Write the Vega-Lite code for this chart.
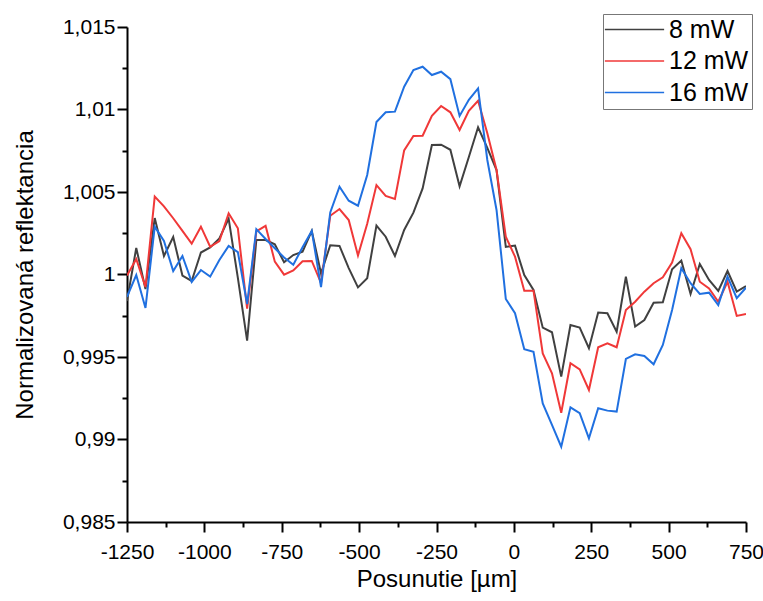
{
  "$schema": "https://vega.github.io/schema/vega-lite/v6.json",
  "width": 619,
  "height": 495,
  "autosize": {"type": "none"},
  "padding": {"left": 127, "top": 27, "right": 17, "bottom": 79},
  "background": "white",
  "config": {"view": {"stroke": null}, "font": "Liberation Sans", "legend": {"strokeWidth": 1}},
  "data": {"values": [
    {"x": -1250, "8 mW": 0.99839, "12 mW": 0.99994, "16 mW": 0.99864},
    {"x": -1220.1, "8 mW": 1.00161, "12 mW": 1.00094, "16 mW": 0.99997},
    {"x": -1190.3, "8 mW": 0.99912, "12 mW": 0.99924, "16 mW": 0.99797},
    {"x": -1160.4, "8 mW": 1.00342, "12 mW": 1.00472, "16 mW": 1.0029},
    {"x": -1130.6, "8 mW": 1.00112, "12 mW": 1.00413, "16 mW": 1.00203},
    {"x": -1100.7, "8 mW": 1.00227, "12 mW": 1.00341, "16 mW": 1.00021},
    {"x": -1070.9, "8 mW": 0.99994, "12 mW": 1.00264, "16 mW": 1.00112},
    {"x": -1041.0, "8 mW": 0.99961, "12 mW": 1.00187, "16 mW": 0.99955},
    {"x": -1011.2, "8 mW": 1.00133, "12 mW": 1.0029, "16 mW": 1.00027},
    {"x": -981.3, "8 mW": 1.00164, "12 mW": 1.00168, "16 mW": 0.99987},
    {"x": -951.5, "8 mW": 1.00219, "12 mW": 1.00202, "16 mW": 1.00088},
    {"x": -921.6, "8 mW": 1.00339, "12 mW": 1.00371, "16 mW": 1.00173},
    {"x": -891.8, "8 mW": 0.99979, "12 mW": 1.0028, "16 mW": 1.00136},
    {"x": -861.9, "8 mW": 0.99599, "12 mW": 0.99793, "16 mW": 0.99821},
    {"x": -832.1, "8 mW": 1.00209, "12 mW": 1.00262, "16 mW": 1.00275},
    {"x": -802.2, "8 mW": 1.00209, "12 mW": 1.00295, "16 mW": 1.00215},
    {"x": -772.4, "8 mW": 1.00183, "12 mW": 1.00078, "16 mW": 1.00159},
    {"x": -742.5, "8 mW": 1.00074, "12 mW": 0.99999, "16 mW": 1.00103},
    {"x": -712.7, "8 mW": 1.00118, "12 mW": 1.00025, "16 mW": 1.00059},
    {"x": -682.8, "8 mW": 1.00138, "12 mW": 1.0008, "16 mW": 1.00165},
    {"x": -653.0, "8 mW": 1.00264, "12 mW": 1.00082, "16 mW": 1.00264},
    {"x": -623.1, "8 mW": 1.00007, "12 mW": 0.99948, "16 mW": 0.99924},
    {"x": -593.3, "8 mW": 1.00177, "12 mW": 1.00356, "16 mW": 1.00376},
    {"x": -563.4, "8 mW": 1.00173, "12 mW": 1.00397, "16 mW": 1.00532},
    {"x": -533.6, "8 mW": 1.00039, "12 mW": 1.0033, "16 mW": 1.00447},
    {"x": -503.7, "8 mW": 0.99922, "12 mW": 1.00115, "16 mW": 1.00417},
    {"x": -473.9, "8 mW": 0.99977, "12 mW": 1.00308, "16 mW": 1.00603},
    {"x": -444.0, "8 mW": 1.00296, "12 mW": 1.00542, "16 mW": 1.00924},
    {"x": -414.2, "8 mW": 1.00229, "12 mW": 1.00476, "16 mW": 1.00983},
    {"x": -384.3, "8 mW": 1.00112, "12 mW": 1.00458, "16 mW": 1.00987},
    {"x": -354.5, "8 mW": 1.0027, "12 mW": 1.00752, "16 mW": 1.01138},
    {"x": -324.6, "8 mW": 1.00375, "12 mW": 1.00839, "16 mW": 1.01239},
    {"x": -294.8, "8 mW": 1.00522, "12 mW": 1.00841, "16 mW": 1.01259},
    {"x": -264.9, "8 mW": 1.00785, "12 mW": 1.00962, "16 mW": 1.01209},
    {"x": -235.1, "8 mW": 1.00787, "12 mW": 1.01021, "16 mW": 1.01229},
    {"x": -205.2, "8 mW": 1.00756, "12 mW": 1.00983, "16 mW": 1.01184},
    {"x": -175.4, "8 mW": 1.00535, "12 mW": 1.00876, "16 mW": 1.00961},
    {"x": -145.5, "8 mW": 1.00712, "12 mW": 1.00992, "16 mW": 1.01059},
    {"x": -115.7, "8 mW": 1.00892, "12 mW": 1.01053, "16 mW": 1.01128},
    {"x": -85.8, "8 mW": 1.00767, "12 mW": 1.00856, "16 mW": 1.00694},
    {"x": -56.0, "8 mW": 1.00633, "12 mW": 1.00633, "16 mW": 1.00391},
    {"x": -26.1, "8 mW": 1.00167, "12 mW": 1.00229, "16 mW": 0.99852},
    {"x": 3.7, "8 mW": 1.00175, "12 mW": 1.00108, "16 mW": 0.99765},
    {"x": 33.6, "8 mW": 0.99997, "12 mW": 0.99902, "16 mW": 0.99547},
    {"x": 63.4, "8 mW": 0.99906, "12 mW": 0.99902, "16 mW": 0.99532},
    {"x": 93.3, "8 mW": 0.99678, "12 mW": 0.99522, "16 mW": 0.99219},
    {"x": 123.1, "8 mW": 0.9965, "12 mW": 0.99401, "16 mW": 0.99088},
    {"x": 153.0, "8 mW": 0.99381, "12 mW": 0.99162, "16 mW": 0.98956},
    {"x": 182.8, "8 mW": 0.99694, "12 mW": 0.99462, "16 mW": 0.99195},
    {"x": 212.7, "8 mW": 0.99678, "12 mW": 0.99425, "16 mW": 0.99159},
    {"x": 242.5, "8 mW": 0.99553, "12 mW": 0.993, "16 mW": 0.99007},
    {"x": 272.4, "8 mW": 0.99769, "12 mW": 0.99559, "16 mW": 0.99189},
    {"x": 302.2, "8 mW": 0.99765, "12 mW": 0.99583, "16 mW": 0.99175},
    {"x": 332.1, "8 mW": 0.99653, "12 mW": 0.99559, "16 mW": 0.99169},
    {"x": 361.9, "8 mW": 0.99987, "12 mW": 0.99785, "16 mW": 0.99488},
    {"x": 391.8, "8 mW": 0.99684, "12 mW": 0.99835, "16 mW": 0.99516},
    {"x": 421.6, "8 mW": 0.99724, "12 mW": 0.99896, "16 mW": 0.99506},
    {"x": 451.5, "8 mW": 0.99829, "12 mW": 0.99947, "16 mW": 0.99456},
    {"x": 481.3, "8 mW": 0.99832, "12 mW": 0.99983, "16 mW": 0.99573},
    {"x": 511.2, "8 mW": 1.00032, "12 mW": 1.00072, "16 mW": 0.99785},
    {"x": 541.0, "8 mW": 1.00084, "12 mW": 1.0025, "16 mW": 1.00038},
    {"x": 570.9, "8 mW": 0.99882, "12 mW": 1.00153, "16 mW": 0.99947},
    {"x": 600.7, "8 mW": 1.00064, "12 mW": 0.99956, "16 mW": 0.99882},
    {"x": 630.6, "8 mW": 0.99967, "12 mW": 0.99916, "16 mW": 0.9989},
    {"x": 660.4, "8 mW": 0.999, "12 mW": 0.99835, "16 mW": 0.99815},
    {"x": 690.3, "8 mW": 1.00021, "12 mW": 0.99956, "16 mW": 0.99987},
    {"x": 720.1, "8 mW": 0.99896, "12 mW": 0.99749, "16 mW": 0.99856},
    {"x": 750, "8 mW": 0.9993, "12 mW": 0.99761, "16 mW": 0.9992}
  ]},
  "transform": [{"fold": ["8 mW", "12 mW", "16 mW"], "as": ["series", "value"]}],
  "mark": {"type": "line", "strokeWidth": 2, "clip": true},
  "encoding": {
    "x": {
      "field": "x", "type": "quantitative",
      "scale": {"domain": [-1250, 750], "nice": false, "zero": false},
      "axis": {
        "values": [-1250, -1125, -1000, -875, -750, -625, -500, -375, -250, -125, 0, 125, 250, 375, 500, 625, 750],
        "labelExpr": "datum.value % 250 === 0 ? '' + datum.value : ''",
        "tickSize": {"condition": {"test": "datum.value % 250 !== 0", "value": 5}, "value": 10},
        "tickWidth": 2, "tickColor": "black", "domainColor": "black", "domainWidth": 2,
        "labelFontSize": 21, "labelColor": "black", "labelPadding": 9, "labelFont": "Liberation Sans",
        "labelFlush": false, "labelOverlap": false,
        "title": "Posunutie [µm]", "titleFontSize": 24, "titleFontWeight": "normal", "titleColor": "black",
        "titleFont": "Liberation Sans", "titlePadding": 5, "grid": false
      }
    },
    "y": {
      "field": "value", "type": "quantitative",
      "scale": {"domain": [0.985, 1.015], "nice": false, "zero": false},
      "axis": {
        "values": [0.985, 0.9875, 0.99, 0.9925, 0.995, 0.9975, 1, 1.0025, 1.005, 1.0075, 1.01, 1.0125, 1.015],
        "labelExpr": "round(datum.value * 10000) % 50 === 0 ? replace(format(datum.value, '.4~f'), '.', ',') : ''",
        "tickSize": {"condition": {"test": "round(datum.value * 10000) % 50 !== 0", "value": 5}, "value": 10},
        "tickWidth": 2, "tickColor": "black", "domainColor": "black", "domainWidth": 2,
        "labelFontSize": 21, "labelColor": "black", "labelPadding": 2, "labelFont": "Liberation Sans",
        "labelFlush": false, "labelOverlap": false,
        "title": "Normalizovaná reflektancia", "titleFontSize": 24, "titleFontWeight": "normal", "titleColor": "black",
        "titleFont": "Liberation Sans", "titlePadding": 25, "grid": false
      }
    },
    "color": {
      "field": "series", "type": "nominal",
      "scale": {"domain": ["8 mW", "12 mW", "16 mW"], "range": ["#404040", "#f03838", "#2070e0"]},
      "legend": {
        "orient": "none", "legendX": 476, "legendY": -13, "title": null,
        "symbolType": "M-3,0H3", "symbolSize": 390, "symbolStrokeWidth": 1.5,
        "symbolOffset": 16, "labelOffset": 22,
        "labelFontSize": 25, "labelFont": "Liberation Sans", "labelColor": "black",
        "padding": 3, "rowPadding": 5.5, "strokeColor": "#777777", "fillColor": "white"
      }
    }
  }
}
